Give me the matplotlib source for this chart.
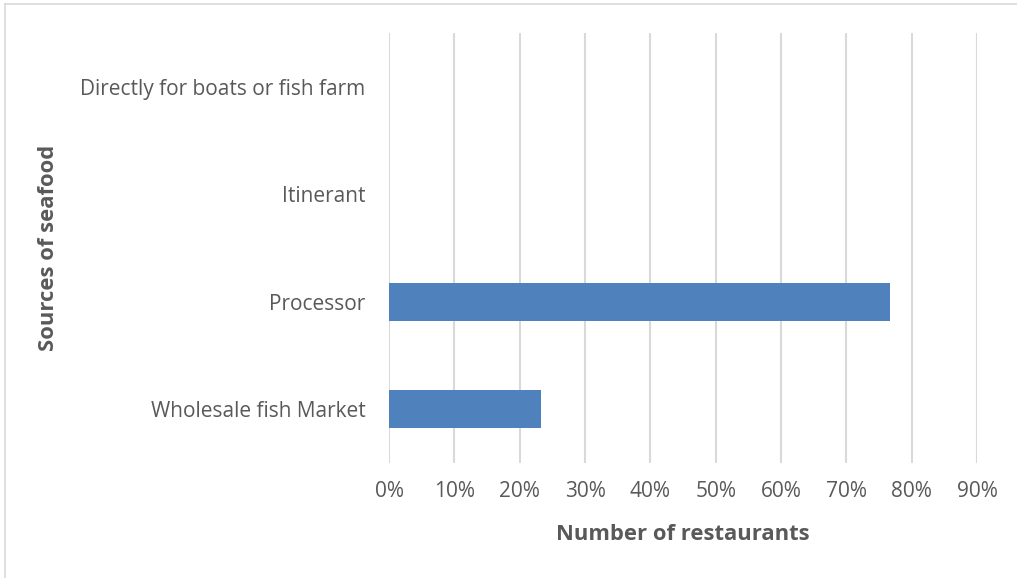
import matplotlib.pyplot as plt
from matplotlib.lines import Line2D
from matplotlib.ticker import PercentFormatter

sources = ['Wholesale fish Market', 'Processor', 'Itinerant', 'Directly for boats or fish farm']
share = [0.233, 0.767, 0.0, 0.0]
ticks = [i / 10 for i in range(10)]

plt.rcParams['font.family'] = ['Open Sans', 'DejaVu Sans']
text_grey = '#595959'

fig = plt.figure(figsize=(10.17, 5.78), dpi=100)
ax = fig.add_axes([0.3825, 0.199, 0.5782, 0.744])

ax.barh(range(len(sources)), share, height=0.355, color='#4F81BD', zorder=3)
ax.set_xlim(0, 0.9)
ax.set_ylim(-0.5, len(sources) - 0.5)
ax.set_xticks(ticks)
ax.xaxis.set_major_formatter(PercentFormatter(1.0, decimals=0))
ax.set_yticks(range(len(sources)))
ax.set_yticklabels(sources)
ax.grid(axis='x', color='#D9D9D9', linewidth=1.5, zorder=0)
for s in ax.spines.values():
    s.set_visible(False)
ax.tick_params(length=0, labelsize=15, labelcolor=text_grey)
ax.tick_params(axis='x', pad=13)
ax.tick_params(axis='y', pad=17)

ax.set_xlabel('Number of restaurants', fontsize=15.8, fontweight='bold', color=text_grey, labelpad=16)
ax.set_ylabel('Sources of seafood', fontsize=15.8, fontweight='bold', color=text_grey, labelpad=15)

# chart frame edges
fig.add_artist(Line2D([5 / 1017, 1], [1 - 4 / 578, 1 - 4 / 578], transform=fig.transFigure, color='#D9D9D9', linewidth=1.2))
fig.add_artist(Line2D([5 / 1017, 5 / 1017], [0, 1 - 4 / 578], transform=fig.transFigure, color='#D9D9D9', linewidth=1.2))

fig.savefig('out.png', dpi=100)
